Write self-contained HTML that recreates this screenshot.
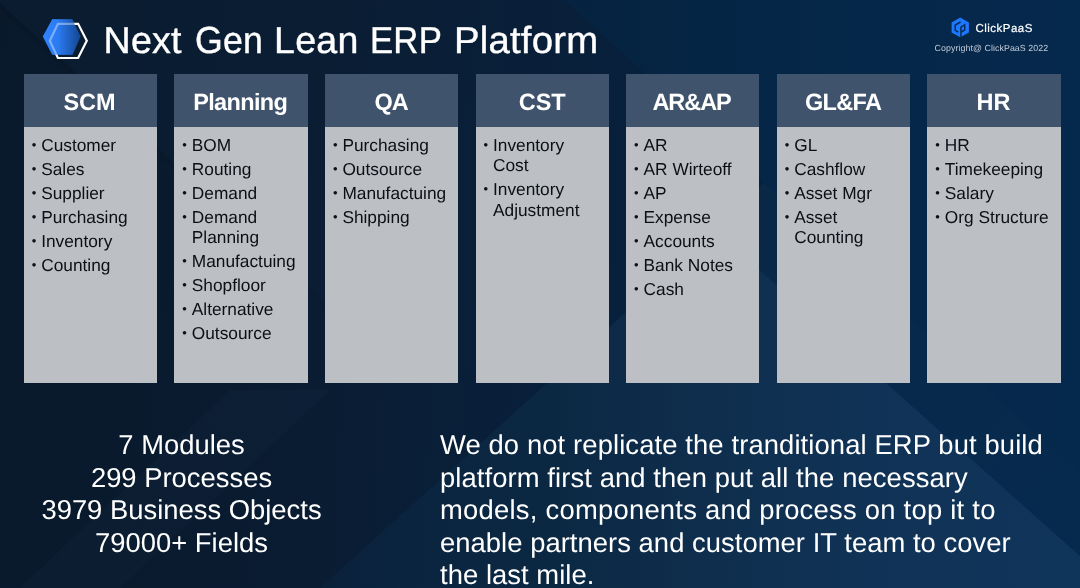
<!DOCTYPE html>
<html lang="en">
<head>
<meta charset="utf-8">
<title>Next Gen Lean ERP Platform</title>
<style>
  html, body { margin: 0; padding: 0; }
  body {
    width: 1080px; height: 588px; overflow: hidden; position: relative;
    font-family: "Liberation Sans", sans-serif;
    text-rendering: geometricPrecision;
    background: #0a1b2e;
  }
  #stage { position: absolute; left: 0; top: 0; width: 1080px; height: 588px; will-change: transform; }
  #bg { position: absolute; left: 0; top: 0; width: 1080px; height: 588px; display: block; }
  .title {
    position: absolute; left: 0; top: 18.6px; margin: 0; width: 700px; height: 42px;
    font-size: 37.6px; line-height: 42px; font-weight: 400; color: #fff;
    white-space: nowrap; letter-spacing: 0.2px; -webkit-text-stroke: 0.4px #fff;
  }
  .title .w { position: absolute; top: 0; display: block; transform-origin: 0 50%; }
  .hex { position: absolute; left: 36px; top: 12px; width: 60px; height: 54px; }
  .brand { position: absolute; left: 945px; top: 10px; width: 30px; height: 35px; }
  .brandname {
    position: absolute; left: 975.4px; top: 20.6px; font-size: 11.5px; line-height: 16px;
    color: #fff; white-space: nowrap; letter-spacing: 0.5px; -webkit-text-stroke: 0.2px #fff;
  }
  .copy {
    position: absolute; left: 934.6px; top: 41.6px; font-size: 8.8px; line-height: 12px;
    color: #c3ccd8; white-space: nowrap; letter-spacing: 0.08px;
  }
  .col { position: absolute; top: 73.7px; width: 133.4px; height: 309px; }
  .col h2 {
    margin: 0; height: 53px; line-height: 56px; background: #40536c; color: #fff;
    font-size: 23.5px; font-weight: 700; text-align: center;
  }
  .col ul {
    margin: 0; padding: 8.2px 0 0 0; list-style: none; height: 247.8px;
    background: #bcc0c5; color: #0c0f13; font-size: 17.3px; line-height: 20.5px;
  }
  .col li { position: relative; padding-left: 17.5px; margin-bottom: 3.5px; white-space: nowrap; }
  .col li .b { position: absolute; left: 8px; top: 0; font-size: 13px; }
  .stats {
    position: absolute; left: 0; top: 429.2px; width: 363px; text-align: center;
    color: #fff; font-size: 27.4px; line-height: 32.5px;
  }
  .desc {
    position: absolute; left: 440px; top: 429.2px; width: 640px;
    color: #fff; font-size: 27.4px; line-height: 32.5px; white-space: nowrap;
  }
</style>
</head>
<body>
<div id="stage">
<svg id="bg" viewBox="0 0 1080 588">
  <defs>
    <linearGradient id="g1" x1="0" y1="0" x2="1080" y2="120" gradientUnits="userSpaceOnUse">
      <stop offset="0" stop-color="#0b1c30"/>
      <stop offset="0.3" stop-color="#0a1d33"/>
      <stop offset="0.5" stop-color="#091f39"/>
      <stop offset="0.6" stop-color="#07203b"/>
      <stop offset="1" stop-color="#062744"/>
    </linearGradient>
    <linearGradient id="gw1" x1="563" y1="0" x2="1080" y2="0" gradientUnits="userSpaceOnUse">
      <stop offset="0" stop-color="#052340"/>
      <stop offset="0.5" stop-color="#052748"/>
      <stop offset="1" stop-color="#05294d"/>
    </linearGradient>
    <linearGradient id="gw2" x1="715" y1="200" x2="1080" y2="520" gradientUnits="userSpaceOnUse">
      <stop offset="0" stop-color="#0a2846"/>
      <stop offset="0.5" stop-color="#07294b"/>
      <stop offset="1" stop-color="#062a4e"/>
    </linearGradient>
    <linearGradient id="gl" x1="320" y1="0" x2="1080" y2="0" gradientUnits="userSpaceOnUse">
      <stop offset="0" stop-color="#0a223c"/>
      <stop offset="0.3" stop-color="#0b2843"/>
      <stop offset="0.5" stop-color="#0f2e4d"/>
      <stop offset="0.7" stop-color="#103255"/>
      <stop offset="1" stop-color="#10355b"/>
    </linearGradient>
    <linearGradient id="gd" x1="0" y1="0" x2="420" y2="0" gradientUnits="userSpaceOnUse">
      <stop offset="0" stop-color="#030c18" stop-opacity="0.17"/>
      <stop offset="0.5" stop-color="#030c18" stop-opacity="0.13"/>
      <stop offset="1" stop-color="#030c18" stop-opacity="0"/>
    </linearGradient>
    <linearGradient id="st" x1="0" y1="0" x2="1" y2="1">
      <stop offset="0" stop-color="#4a78a8" stop-opacity="0.05"/>
      <stop offset="1" stop-color="#4a78a8" stop-opacity="0.02"/>
    </linearGradient>
  </defs>
  <rect width="1080" height="588" fill="url(#g1)"/>
  <!-- lighter area below lines C and B -->
  <polygon points="716,231 1080,556 1080,588 320,588" fill="url(#gl)"/>
  <!-- band between lines A and B, right of C -->
  <polygon points="764,183 1080,474 1080,556 716,231" fill="url(#gw2)"/>
  <!-- darker blue wedge, upper right (above line A) -->
  <polygon points="565,0 1080,0 1080,474" fill="url(#gw1)"/>
  <!-- faint dark wedge, lower left (below line D), fading to the right -->
  <polygon points="0,3 636,588 0,588" fill="url(#gd)"/>
  <polygon points="0,3 0,10 628,588 636,588" fill="url(#gd)"/>
  <!-- faint light streaks -->
  <polygon points="20,588 230,390 330,390 120,588" fill="url(#st)"/>
</svg>

<svg class="hex" viewBox="36 12 60 54">
  <defs>
    <linearGradient id="hx" x1="42.9" y1="0" x2="80.5" y2="0" gradientUnits="userSpaceOnUse">
      <stop offset="0" stop-color="#2f84ff"/>
      <stop offset="0.4" stop-color="#2b7bf2"/>
      <stop offset="1" stop-color="#124690"/>
    </linearGradient>
  </defs>
  <polygon points="42.9,36.6 52.3,19.2 72.3,19.2 80.5,36.6 72.5,54.7 52.3,54.7" fill="url(#hx)"/>
  <polygon points="49.8,40.8 57.9,23.8 78.1,23.8 86.8,40.8 78.1,58 57.9,58" fill="none" stroke="#fff" stroke-width="2.2" stroke-linejoin="miter"/>
  <polygon points="42.9,36.6 52.3,19.2 72.3,19.2 80.5,36.6 72.5,54.7 52.3,54.7" fill="url(#hx)" opacity="0.62"/>
</svg>
<h1 class="title"><span class="w" style="left:103.6px">Next</span> <span class="w" style="left:194.6px;transform:scaleX(0.949)">Gen</span> <span class="w" style="left:274.1px">Lean</span> <span class="w" style="left:370px;transform:scaleX(0.925)">ERP</span> <span class="w" style="left:454.2px;transform:scaleX(1.02)">Platform</span></h1>

<svg class="brand" viewBox="945 10 30 35">
  <polygon points="960.2,17.5 968.9,22.4 968.9,32.4 960.2,37.3 951.6,32.4 951.6,22.4" fill="#1c78ff"/>
  <path d="M960.6 22.0 L955.2 25.0 V30.3 L958.3 32.1" fill="none" stroke="#0a2d5a" stroke-width="1.5"/>
  <path d="M960.9 36.9 V27.1 L964.7 24.9 V30.0 L961.2 32.0" fill="none" stroke="#0a2d5a" stroke-width="1.5"/>
</svg>
<div class="brandname">ClickPaaS</div>
<div class="copy">Copyright@ ClickPaaS 2022</div>

<div class="col" style="left:23.7px">
  <h2><span style="position:relative;left:-0.9px">SCM</span></h2>
  <ul><li><span class="b">•</span>Customer</li><li><span class="b">•</span>Sales</li><li><span class="b">•</span>Supplier</li><li><span class="b">•</span>Purchasing</li><li><span class="b">•</span>Inventory</li><li><span class="b">•</span>Counting</li></ul>
</div>
<div class="col" style="left:174.3px">
  <h2><span style="letter-spacing:-0.66px;position:relative;left:-0.8px">Planning</span></h2>
  <ul><li><span class="b">•</span>BOM</li><li><span class="b">•</span>Routing</li><li><span class="b">•</span>Demand</li><li><span class="b">•</span>Demand<br>Planning</li><li><span class="b">•</span>Manufactuing</li><li><span class="b">•</span>Shopfloor</li><li><span class="b">•</span>Alternative</li><li><span class="b">•</span>Outsource</li></ul>
</div>
<div class="col" style="left:324.9px">
  <h2><span style="letter-spacing:-1.2px;position:relative;left:-0.6px">QA</span></h2>
  <ul><li><span class="b">•</span>Purchasing</li><li><span class="b">•</span>Outsource</li><li><span class="b">•</span>Manufactuing</li><li><span class="b">•</span>Shipping</li></ul>
</div>
<div class="col" style="left:475.5px">
  <h2>CST</h2>
  <ul><li><span class="b">•</span>Inventory<br>Cost</li><li><span class="b">•</span>Inventory<br>Adjustment</li></ul>
</div>
<div class="col" style="left:626.1px">
  <h2><span style="letter-spacing:-1.05px;position:relative;left:-1.2px">AR&amp;AP</span></h2>
  <ul><li><span class="b">•</span>AR</li><li><span class="b">•</span>AR Wirteoff</li><li><span class="b">•</span>AP</li><li><span class="b">•</span>Expense</li><li><span class="b">•</span>Accounts</li><li><span class="b">•</span>Bank Notes</li><li><span class="b">•</span>Cash</li></ul>
</div>
<div class="col" style="left:776.7px">
  <h2><span style="letter-spacing:-0.65px;position:relative;left:-0.3px">GL&amp;FA</span></h2>
  <ul><li><span class="b">•</span>GL</li><li><span class="b">•</span>Cashflow</li><li><span class="b">•</span>Asset Mgr</li><li><span class="b">•</span>Asset<br>Counting</li></ul>
</div>
<div class="col" style="left:927.3px">
  <h2><span style="position:relative;left:-0.5px">HR</span></h2>
  <ul><li><span class="b">•</span>HR</li><li><span class="b">•</span>Timekeeping</li><li><span class="b">•</span>Salary</li><li><span class="b">•</span>Org Structure</li></ul>
</div>

<div class="stats">7 Modules<br>299 Processes<br>3979 Business Objects<br>79000+ Fields</div>
<div class="desc"><span style="letter-spacing:0.11px">We do not replicate the tranditional ERP but build</span><br><span style="letter-spacing:0.09px">platform first and then put all the necessary</span><br><span style="letter-spacing:0.245px">models, components and process on top it to</span><br><span style="letter-spacing:0.04px">enable partners and customer IT team to cover</span><br><span style="letter-spacing:0.05px">the last mile.</span></div>
</div>
</body>
</html>
